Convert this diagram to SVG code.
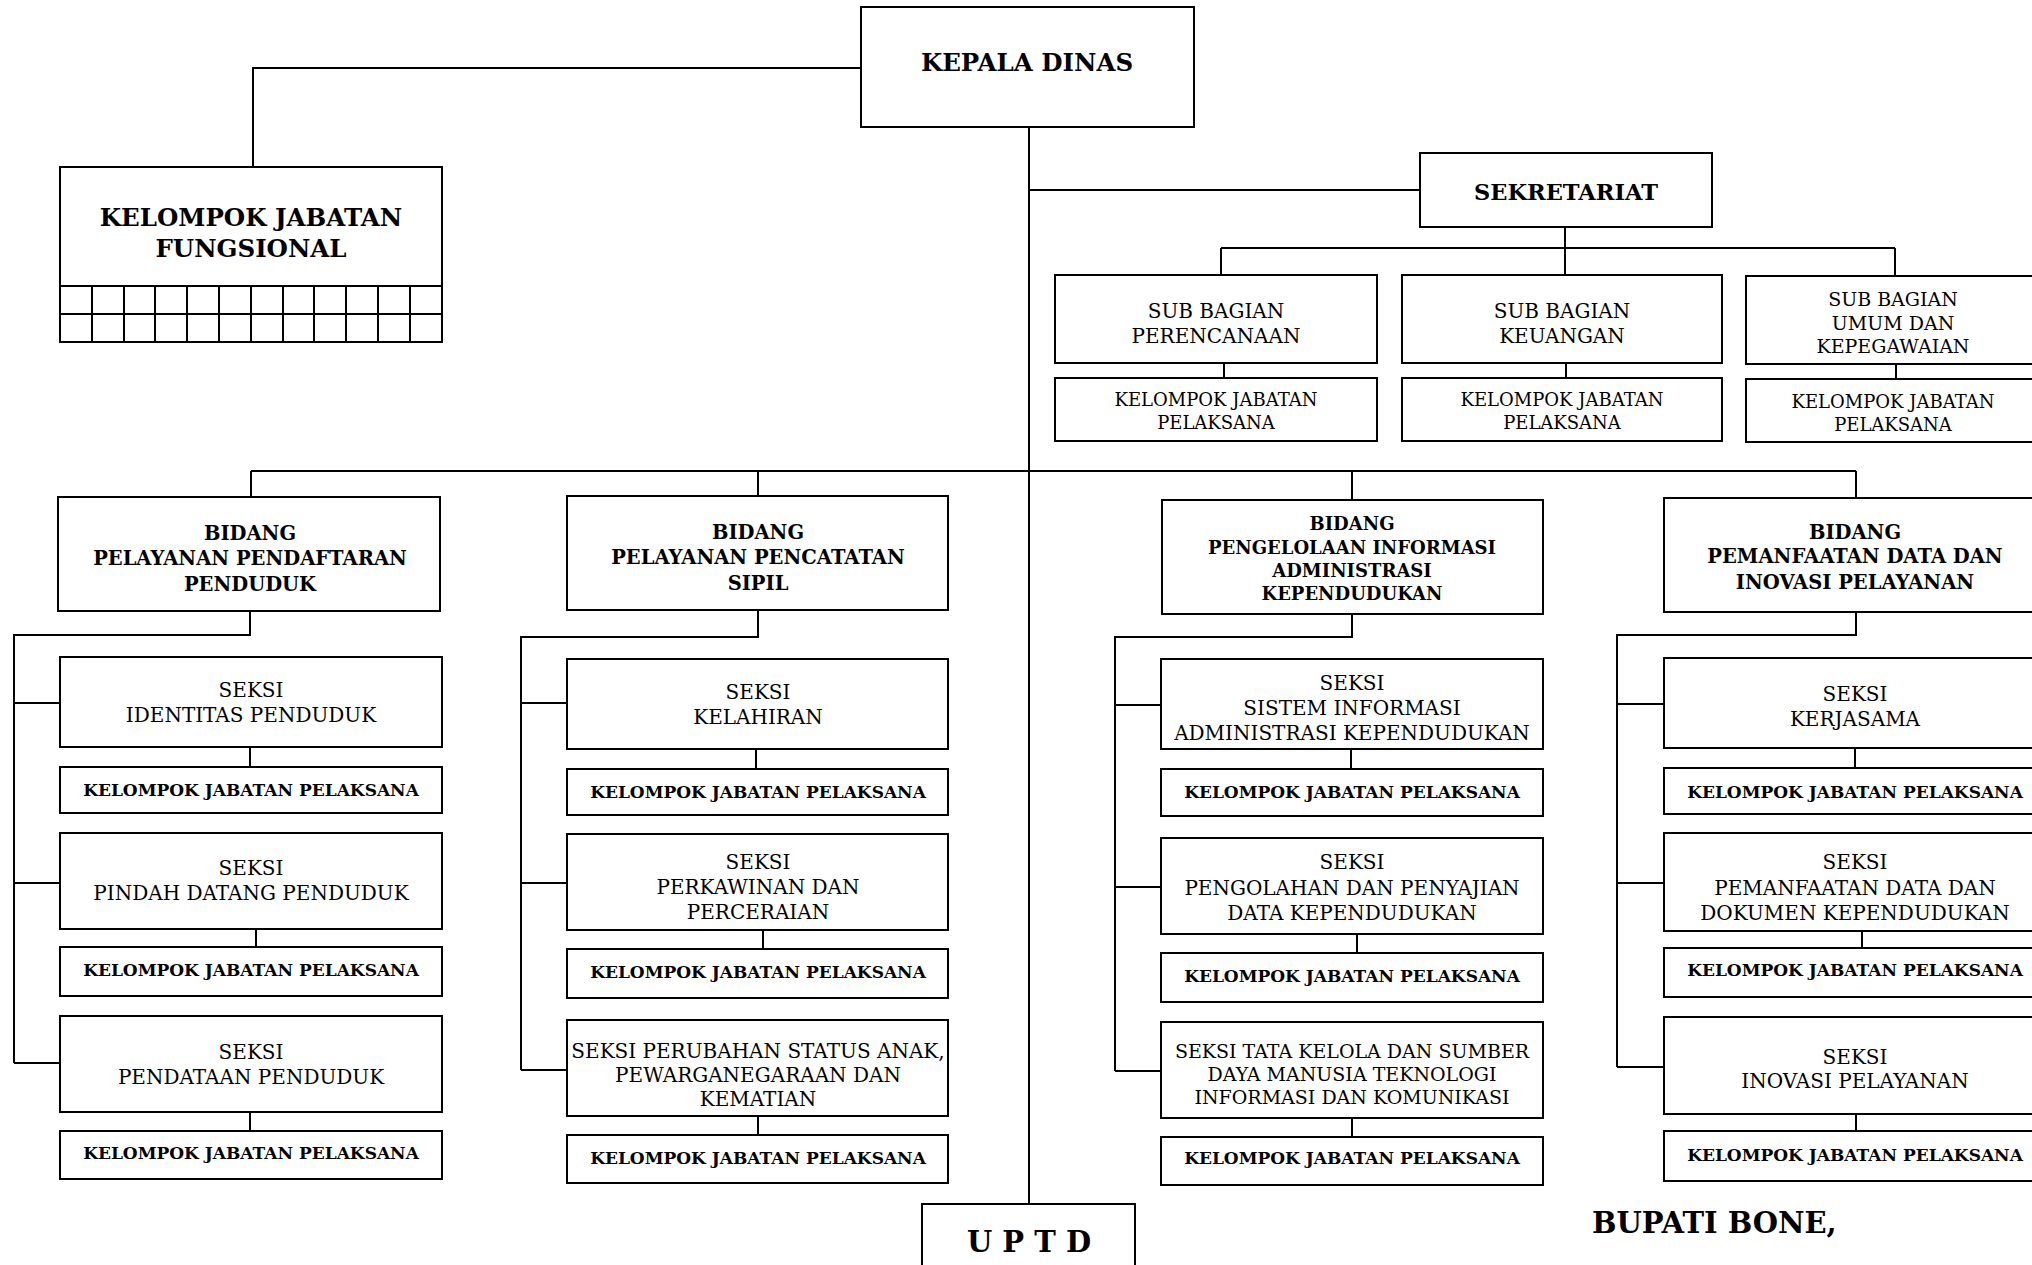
<svg xmlns="http://www.w3.org/2000/svg" width="2032" height="1265" viewBox="0 0 2032 1265">
<style>
rect{fill:#fff;stroke:#000;stroke-width:2}
.c path,.grid path{fill:none;stroke:#000;stroke-width:2}
text{font-family:"DejaVu Serif","Liberation Serif",serif;fill:#000;text-anchor:middle}
.r{font-size:20px}
.r2{font-size:19px}
.rs{font-size:18px}
.b{font-weight:bold;font-size:19.5px}
.b2{font-weight:bold;font-size:18px}
.bk{font-weight:bold;font-size:17px}
.bt{font-weight:bold;font-size:24.5px}
</style>
<rect x="0" y="0" width="2032" height="1265" style="stroke:none"/>
<g class="c" id="connectors">
<path d="M861,68 H253 V167"/>
<path d="M1029,127 V1204"/>
<path d="M1029,190 H1420"/>
<path d="M1565,227 V248 M1221,248 H1895 M1221,248 V275 M1565,248 V275 M1895,248 V276"/>
<path d="M1224,363 V378 M1566,363 V378 M1896,364 V379"/>
<path d="M251,471 H1856 M251,471 V497 M758,471 V496 M1352,471 V500 M1856,471 V498"/>
<path d="M250,611 V635 H14 V1063 M14,703 H60 M14,883 H60 M14,1063 H60 M250,747 V767 M256,929 V947 M250,1112 V1131"/>
<path d="M758,610 V637 H521 V1070 M521,703 H567 M521,883 H567 M521,1070 H567 M756,749 V769 M763,930 V949 M758,1116 V1135"/>
<path d="M1352,614 V637 H1115 V1071 M1115,705 H1161 M1115,887 H1161 M1115,1071 H1161 M1351,749 V769 M1357,934 V953 M1352,1118 V1137"/>
<path d="M1856,612 V635 H1617 V1067 M1617,704 H1664 M1617,883 H1664 M1617,1067 H1664 M1855,748 V768 M1862,931 V948 M1856,1114 V1131"/>
</g>
<g id="kepala-dinas"><rect x="861" y="7" width="333" height="120"/><text class="bt" x="1027" y="71">KEPALA DINAS</text></g>
<g id="kelompok-fungsional"><rect x="60" y="167" width="382" height="175"/>
<text class="bt" x="251" y="226">KELOMPOK JABATAN</text><text class="bt" x="251" y="257">FUNGSIONAL</text>
<g class="grid"><path d="M60,286 H442 M60,314 H442 M92,286 V342 M124,286 V342 M155,286 V342 M187,286 V342 M219,286 V342 M251,286 V342 M283,286 V342 M314,286 V342 M346,286 V342 M378,286 V342 M410,286 V342"/></g></g>
<g id="sekretariat"><rect x="1420" y="153" width="292" height="74"/><text class="bt" x="1566" y="200" style="font-size:22.5px">SEKRETARIAT</text></g>
<g id="sb-perencanaan"><rect x="1055" y="275" width="322" height="88"/><text class="r" x="1216" y="318">SUB BAGIAN</text><text class="r" x="1216" y="343">PERENCANAAN</text></g>
<g id="sb-keuangan"><rect x="1402" y="275" width="320" height="88"/><text class="r" x="1562" y="318">SUB BAGIAN</text><text class="r" x="1562" y="343">KEUANGAN</text></g>
<g id="sb-umum"><rect x="1746" y="276" width="300" height="88"/><text class="r2" x="1893" y="306">SUB BAGIAN</text><text class="r2" x="1893" y="330">UMUM DAN</text><text class="r2" x="1893" y="353">KEPEGAWAIAN</text></g>
<g id="kjp-sb1"><rect x="1055" y="378" width="322" height="63"/><text class="rs" x="1216" y="406">KELOMPOK JABATAN</text><text class="rs" x="1216" y="429">PELAKSANA</text></g>
<g id="kjp-sb2"><rect x="1402" y="378" width="320" height="63"/><text class="rs" x="1562" y="406">KELOMPOK JABATAN</text><text class="rs" x="1562" y="429">PELAKSANA</text></g>
<g id="kjp-sb3"><rect x="1746" y="379" width="300" height="63"/><text class="rs" x="1893" y="408">KELOMPOK JABATAN</text><text class="rs" x="1893" y="431">PELAKSANA</text></g>

<g id="bidang-1"><rect x="58" y="497" width="382" height="114"/><text class="b" x="250" y="540">BIDANG</text><text class="b" x="250" y="565">PELAYANAN PENDAFTARAN</text><text class="b" x="250" y="591">PENDUDUK</text></g>
<g id="bidang-2"><rect x="567" y="496" width="381" height="114"/><text class="b" x="758" y="539">BIDANG</text><text class="b" x="758" y="564">PELAYANAN PENCATATAN</text><text class="b" x="758" y="590">SIPIL</text></g>
<g id="bidang-3"><rect x="1162" y="500" width="381" height="114"/><text class="b2" x="1352" y="530">BIDANG</text><text class="b2" x="1352" y="554">PENGELOLAAN INFORMASI</text><text class="b2" x="1352" y="577">ADMINISTRASI</text><text class="b2" x="1352" y="600">KEPENDUDUKAN</text></g>
<g id="bidang-4"><rect x="1664" y="498" width="382" height="114"/><text class="b" x="1855" y="539">BIDANG</text><text class="b" x="1855" y="563">PEMANFAATAN DATA DAN</text><text class="b" x="1855" y="589">INOVASI PELAYANAN</text></g>

<g id="seksi-1-1"><rect x="60" y="657" width="382" height="90"/><text class="r" x="251" y="697">SEKSI</text><text class="r" x="251" y="722">IDENTITAS PENDUDUK</text></g>
<g id="kjp-1-1"><rect x="60" y="767" width="382" height="46"/><text class="bk" x="251" y="796">KELOMPOK JABATAN PELAKSANA</text></g>
<g id="seksi-1-2"><rect x="60" y="833" width="382" height="96"/><text class="r" x="251" y="875">SEKSI</text><text class="r" x="251" y="900">PINDAH DATANG PENDUDUK</text></g>
<g id="kjp-1-2"><rect x="60" y="947" width="382" height="49"/><text class="bk" x="251" y="976">KELOMPOK JABATAN PELAKSANA</text></g>
<g id="seksi-1-3"><rect x="60" y="1016" width="382" height="96"/><text class="r" x="251" y="1059">SEKSI</text><text class="r" x="251" y="1084">PENDATAAN PENDUDUK</text></g>
<g id="kjp-1-3"><rect x="60" y="1131" width="382" height="48"/><text class="bk" x="251" y="1159">KELOMPOK JABATAN PELAKSANA</text></g>

<g id="seksi-2-1"><rect x="567" y="659" width="381" height="90"/><text class="r" x="758" y="699">SEKSI</text><text class="r" x="758" y="724">KELAHIRAN</text></g>
<g id="kjp-2-1"><rect x="567" y="769" width="381" height="46"/><text class="bk" x="758" y="798">KELOMPOK JABATAN PELAKSANA</text></g>
<g id="seksi-2-2"><rect x="567" y="834" width="381" height="96"/><text class="r" x="758" y="869">SEKSI</text><text class="r" x="758" y="894">PERKAWINAN DAN</text><text class="r" x="758" y="919">PERCERAIAN</text></g>
<g id="kjp-2-2"><rect x="567" y="949" width="381" height="49"/><text class="bk" x="758" y="978">KELOMPOK JABATAN PELAKSANA</text></g>
<g id="seksi-2-3"><rect x="567" y="1020" width="381" height="96"/><text class="r" x="758" y="1058">SEKSI PERUBAHAN STATUS ANAK,</text><text class="r" x="758" y="1082">PEWARGANEGARAAN DAN</text><text class="r" x="758" y="1106">KEMATIAN</text></g>
<g id="kjp-2-3"><rect x="567" y="1135" width="381" height="48"/><text class="bk" x="758" y="1164">KELOMPOK JABATAN PELAKSANA</text></g>

<g id="seksi-3-1"><rect x="1161" y="659" width="382" height="90"/><text class="r" x="1352" y="690">SEKSI</text><text class="r" x="1352" y="715">SISTEM INFORMASI</text><text class="r" x="1352" y="740">ADMINISTRASI KEPENDUDUKAN</text></g>
<g id="kjp-3-1"><rect x="1161" y="769" width="382" height="47"/><text class="bk" x="1352" y="798">KELOMPOK JABATAN PELAKSANA</text></g>
<g id="seksi-3-2"><rect x="1161" y="838" width="382" height="96"/><text class="r" x="1352" y="869">SEKSI</text><text class="r" x="1352" y="895">PENGOLAHAN DAN PENYAJIAN</text><text class="r" x="1352" y="920">DATA KEPENDUDUKAN</text></g>
<g id="kjp-3-2"><rect x="1161" y="953" width="382" height="49"/><text class="bk" x="1352" y="982">KELOMPOK JABATAN PELAKSANA</text></g>
<g id="seksi-3-3"><rect x="1161" y="1022" width="382" height="96"/><text class="r2" x="1352" y="1058">SEKSI TATA KELOLA DAN SUMBER</text><text class="r2" x="1352" y="1081">DAYA MANUSIA TEKNOLOGI</text><text class="r2" x="1352" y="1104">INFORMASI DAN KOMUNIKASI</text></g>
<g id="kjp-3-3"><rect x="1161" y="1137" width="382" height="48"/><text class="bk" x="1352" y="1164">KELOMPOK JABATAN PELAKSANA</text></g>

<g id="seksi-4-1"><rect x="1664" y="658" width="382" height="90"/><text class="r" x="1855" y="701">SEKSI</text><text class="r" x="1855" y="726">KERJASAMA</text></g>
<g id="kjp-4-1"><rect x="1664" y="768" width="382" height="46"/><text class="bk" x="1855" y="798">KELOMPOK JABATAN PELAKSANA</text></g>
<g id="seksi-4-2"><rect x="1664" y="833" width="382" height="98"/><text class="r" x="1855" y="869">SEKSI</text><text class="r" x="1855" y="895">PEMANFAATAN DATA DAN</text><text class="r" x="1855" y="920">DOKUMEN KEPENDUDUKAN</text></g>
<g id="kjp-4-2"><rect x="1664" y="948" width="382" height="49"/><text class="bk" x="1855" y="976">KELOMPOK JABATAN PELAKSANA</text></g>
<g id="seksi-4-3"><rect x="1664" y="1017" width="382" height="97"/><text class="r" x="1855" y="1064">SEKSI</text><text class="r" x="1855" y="1088">INOVASI PELAYANAN</text></g>
<g id="kjp-4-3"><rect x="1664" y="1131" width="382" height="50"/><text class="bk" x="1855" y="1161">KELOMPOK JABATAN PELAKSANA</text></g>

<g id="uptd"><rect x="922" y="1204" width="213" height="80"/><text x="1029" y="1252" style="font-weight:bold;font-size:29px">U P T D</text></g>
<g id="bupati"><text x="1592" y="1233" style="font-weight:bold;font-size:29px;text-anchor:start">BUPATI BONE,</text></g>
</svg>
